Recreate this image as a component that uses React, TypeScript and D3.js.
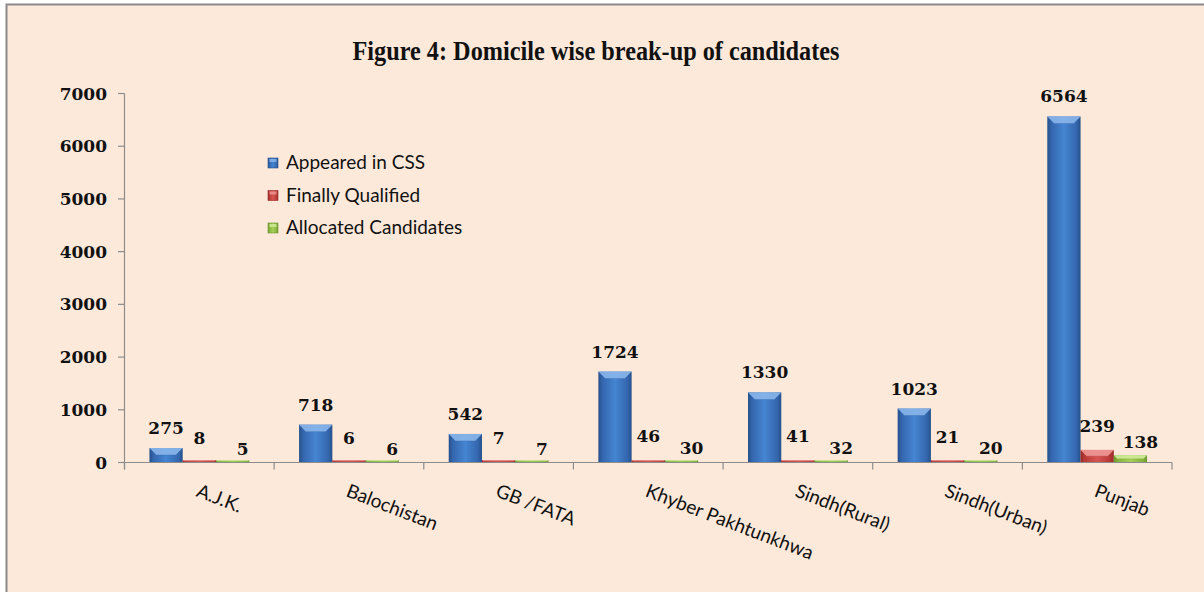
import React from "react";
import * as d3 from "d3";

const categories = ["A.J.K.", "Balochistan", "GB /FATA", "Khyber Pakhtunkhwa", "Sindh(Rural)", "Sindh(Urban)", "Punjab"];
const appeared = [275, 718, 542, 1724, 1330, 1023, 6564];
const qualified = [8, 6, 7, 46, 41, 21, 239];
const allocated = [5, 6, 7, 30, 32, 20, 138];
const seriesNames = ["Appeared in CSS", "Finally Qualified", "Allocated Candidates"];
const yTicks = [0, 1000, 2000, 3000, 4000, 5000, 6000, 7000];
const title = "Figure 4: Domicile wise break-up of candidates";

const W = 1204;
const H = 592;

const palette = [
  { id: "gBlue", dark: "#25508a", mid: "#3466ad", light: "#4585d2", bevel: "#8ab6ea" },
  { id: "gRed", dark: "#962a28", mid: "#b73a37", light: "#d65451", bevel: "#ee9896" },
  { id: "gGreen", dark: "#6c9630", mid: "#86b23e", light: "#a6d058", bevel: "#d2ec9c" },
];

const labelDy = [14, 18, 7];
const labelDx = [0, 0, 10];

export default function App() {
  const series = [appeared, qualified, allocated];
  const x0 = d3.scaleBand<string>().domain(categories).range([124.5, 1172]).padding(0);
  const bw = x0.bandwidth();
  const barW = bw / 4.5;
  const x1 = d3
    .scaleBand<number>()
    .domain([0, 1, 2])
    .range([barW * 0.75, bw - barW * 0.75])
    .padding(0);
  const y = d3.scaleLinear().domain([0, 7000]).range([462.5, 93.5]);
  const sans = "Lato, 'Open Sans', sans-serif";
  const serif = "'DejaVu Serif', serif";

  return (
    <svg width={W} height={H} style={{ position: "absolute", left: 0, top: 0 }}>
      <defs>
        {palette.map((p) => (
          <linearGradient key={p.id} id={p.id} x1="0" x2="1" y1="0" y2="0">
            <stop offset="0" stopColor={p.dark} />
            <stop offset="0.12" stopColor={p.mid} />
            <stop offset="0.5" stopColor={p.light} />
            <stop offset="0.88" stopColor={p.mid} />
            <stop offset="1" stopColor={p.dark} />
          </linearGradient>
        ))}
      </defs>
      <rect x={0} y={0} width={W} height={H} fill="#ffffff" />
      <rect x={6.5} y={4.5} width={W + 20} height={H + 20} fill="#fde9da" stroke="#8a8a8a" strokeWidth={2} />

      <text
        x={596}
        y={60}
        textAnchor="middle"
        fontFamily="'Liberation Serif', serif"
        fontWeight="bold"
        fontSize={27}
        textLength={487}
        lengthAdjust="spacingAndGlyphs"
        fill="#111"
      >
        {title}
      </text>

      {/* value axis */}
      <line x1={124.5} x2={124.5} y1={y(7000)} y2={y(0) + 7} stroke="#8c8c8c" strokeWidth={1.2} />
      {yTicks.map((t) => (
        <g key={t}>
          <line x1={118} x2={124.5} y1={y(t)} y2={y(t)} stroke="#8c8c8c" strokeWidth={1.2} />
          <text
            x={107}
            y={y(t)}
            dy="0.36em"
            textAnchor="end"
            fontFamily={serif}
            fontWeight="bold"
            fontSize={17}
            fill="#111"
          >
            {t}
          </text>
        </g>
      ))}

      {/* bars */}
      {categories.map((c, ci) => (
        <g key={c} transform={`translate(${x0(c)},0)`}>
          {series.map((s, si) => {
            const v = s[ci];
            const bx = x1(si)!;
            const w = x1.bandwidth();
            const top = Math.min(y(v), y(0) - 2.5);
            const h = y(0) - top;
            const b = Math.min(7, h / 2);
            const p = palette[si];
            return (
              <g key={si}>
                <rect x={bx} y={top} width={w} height={h} fill={`url(#${p.id})`} />
                <polygon
                  points={`${bx},${top} ${bx + w},${top} ${bx + w - b},${top + b} ${bx + b},${top + b}`}
                  fill={p.bevel}
                  opacity={0.9}
                />
                <line x1={bx + b} x2={bx + w - b} y1={top + b} y2={top + b} stroke={p.mid} strokeWidth={0.6} opacity={0.6} />
                <text
                  x={bx + w / 2 + labelDx[si]}
                  y={y(v) - labelDy[si]}
                  textAnchor="middle"
                  fontFamily={serif}
                  fontWeight="bold"
                  fontSize={17}
                  fill="#111"
                >
                  {v}
                </text>
              </g>
            );
          })}
        </g>
      ))}

      {/* category axis */}
      <line x1={124.5} x2={1172} y1={y(0)} y2={y(0)} stroke="#8c8c8c" strokeWidth={1.2} />
      {[...categories.map((c) => x0(c)!), 1172].map((tx, i) => (
        <line key={i} x1={tx} x2={tx} y1={y(0)} y2={y(0) + 7} stroke="#8c8c8c" strokeWidth={1.2} />
      ))}
      {categories.map((c) => {
        const cx = x0(c)! + bw / 2 - 4;
        return (
          <text
            key={c}
            transform={`translate(${cx},496) rotate(21)`}
            fontFamily={sans}
            fontSize={19}
            fill="#111"
          >
            {c}
          </text>
        );
      })}

      {/* legend */}
      {seriesNames.map((n, i) => {
        const by = 169 + i * 32.5;
        const p = palette[i];
        return (
          <g key={n}>
            <rect x={268} y={by - 11} width={10} height={10} fill={`url(#${p.id})`} stroke={p.dark} strokeWidth={0.6} />
            <rect x={269.5} y={by - 10} width={7} height={3} fill={p.bevel} opacity={0.8} />
            <text x={286} y={by} fontFamily={sans} fontSize={19} fill="#111">
              {n}
            </text>
          </g>
        );
      })}
    </svg>
  );
}
